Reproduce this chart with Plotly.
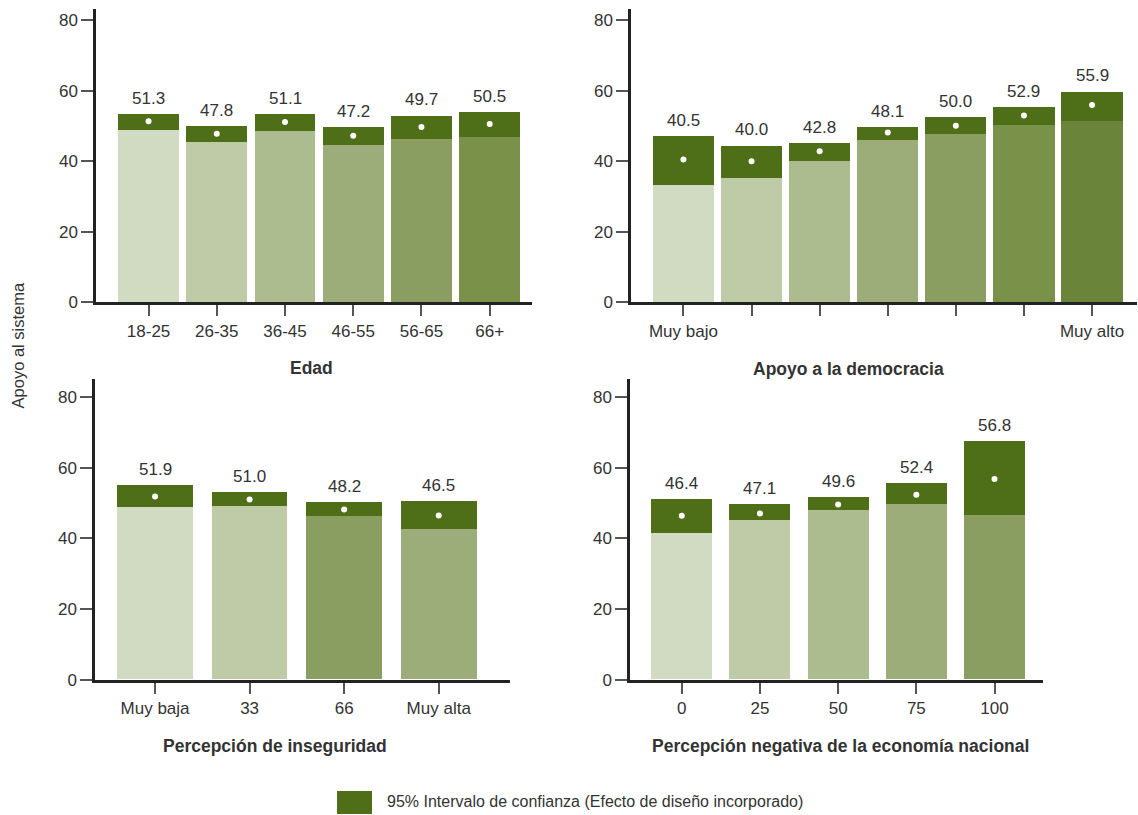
import plotly.graph_objects as go

W, H = 1138, 815      # reference picture size, used for placing things
FIG_H = 826           # page comes out slightly squeezed vertically, so draw a bit taller

# --- data ---
edad_labels = ['18-25', '26-35', '36-45', '46-55', '56-65', '66+']
edad_mean = [51.3, 47.8, 51.1, 47.2, 49.7, 50.5]
edad_low = [48.8, 45.4, 48.5, 44.5, 46.2, 46.8]
edad_high = [53.3, 49.9, 53.3, 49.6, 52.8, 53.9]

demo_labels = ['Muy bajo', '', '', '', '', '', 'Muy alto']
demo_mean = [40.5, 40.0, 42.8, 48.1, 50.0, 52.9, 55.9]
demo_low = [33.2, 35.2, 40.0, 46.0, 47.7, 50.2, 51.3]
demo_high = [47.1, 44.3, 45.1, 49.6, 52.5, 55.3, 59.6]

inseg_labels = ['Muy baja', '33', '66', 'Muy alta']
inseg_mean = [51.9, 51.0, 48.2, 46.5]
inseg_low = [48.9, 49.2, 46.3, 42.6]
inseg_high = [55.1, 53.1, 50.3, 50.6]

econ_labels = ['0', '25', '50', '75', '100']
econ_mean = [46.4, 47.1, 49.6, 52.4, 56.8]
econ_low = [41.4, 45.1, 47.9, 49.6, 46.5]
econ_high = [51.1, 49.6, 51.6, 55.6, 67.5]

y_ticks = [0, 20, 40, 60, 80]

# --- style ---
FONT = 'Liberation Sans, Arial, sans-serif'
TXT = '#333333'
CI_COLOR = '#4e6e18'
greens = ['#d1dbc2', '#bfcaa7', '#acbc8e', '#9cad79', '#8a9e61', '#7a914a', '#6a843a']

panels = [
    dict(labels=edad_labels, mean=edad_mean, low=edad_low, high=edad_high,
         colors=greens[:6], title='Edad', width=0.89,
         xpx=(96, 532), ypx=(302, 9), xr=(-0.77, 5.62), yr=(0, 83.1),
         title_pos=(311, 368)),
    dict(labels=demo_labels, mean=demo_mean, low=demo_low, high=demo_high,
         colors=greens[:7], title='Apoyo a la democracia', width=0.9,
         xpx=(631, 1137), ypx=(302, 9), xr=(-0.77, 6.66), yr=(0, 83.1),
         title_pos=(848, 369)),
    dict(labels=inseg_labels, mean=inseg_mean, low=inseg_low, high=inseg_high,
         colors=[greens[0], greens[1], greens[4], greens[3]],
         title='Percepción de inseguridad', width=0.8,
         xpx=(95, 510), ypx=(679, 379), xr=(-0.635, 3.754), yr=(0, 85.0),
         title_pos=(275, 745)),
    dict(labels=econ_labels, mean=econ_mean, low=econ_low, high=econ_high,
         colors=greens[:5], title='Percepción negativa de la economía nacional', width=0.78,
         xpx=(630, 1043), ypx=(679, 379), xr=(-0.662, 4.62), yr=(0, 85.0),
         title_pos=(840, 745)),
]

fig = go.Figure()
annotations = []

for i, p in enumerate(panels):
    n = i + 1
    xa = 'x' if n == 1 else f'x{n}'
    ya = 'y' if n == 1 else f'y{n}'
    pos = list(range(len(p['labels'])))
    ci = [h - l for h, l in zip(p['high'], p['low'])]

    fig.add_trace(go.Bar(x=pos, y=p['low'], marker_color=p['colors'], marker_line_width=0,
                         width=p['width'], xaxis=xa, yaxis=ya, showlegend=False,
                         hoverinfo='skip'))
    fig.add_trace(go.Bar(x=pos, y=ci, base=p['low'], marker_color=CI_COLOR, marker_line_width=0,
                         width=p['width'], xaxis=xa, yaxis=ya, showlegend=False,
                         name='95% Intervalo de confianza'))
    fig.add_trace(go.Scatter(x=pos, y=p['mean'], mode='markers',
                             marker=dict(color='white', size=6), xaxis=xa, yaxis=ya,
                             showlegend=False))

    for x, m, h in zip(pos, p['mean'], p['high']):
        annotations.append(dict(x=x, y=h, xref=xa, yref=ya, text=f'{m:.1f}', showarrow=False,
                                yanchor='middle', yshift=16,
                                font=dict(size=17, color=TXT, family=FONT)))

    tx, ty = p['title_pos']
    annotations.append(dict(x=tx / W, y=1 - ty / H, xref='paper', yref='paper',
                            text=f"<b>{p['title']}</b>", showarrow=False,
                            xanchor='center', yanchor='middle',
                            font=dict(size=17.5, color=TXT, family=FONT)))

    axis_common = dict(showline=True, linecolor='#222222', linewidth=2.5, showgrid=False,
                       zeroline=False, ticks='outside', tickcolor='#555555', tickwidth=1.5,
                       tickfont=dict(size=17, color=TXT, family=FONT))
    fig.update_layout({
        ('xaxis' if n == 1 else f'xaxis{n}'): dict(
            axis_common, domain=[p['xpx'][0] / W, p['xpx'][1] / W], range=list(p['xr']),
            tickvals=pos, ticktext=p['labels'], ticklen=11, anchor=ya),
        ('yaxis' if n == 1 else f'yaxis{n}'): dict(
            axis_common, domain=[1 - p['ypx'][0] / H, 1 - p['ypx'][1] / H], range=list(p['yr']),
            tickvals=y_ticks, ticklen=12, anchor=xa),
    })

# shared y title
annotations.append(dict(x=18 / W, y=1 - 345 / H, xref='paper', yref='paper',
                        text='Apoyo al sistema', textangle=-90, showarrow=False,
                        xanchor='center', yanchor='middle',
                        font=dict(size=16.5, color=TXT, family=FONT)))

# legend (drawn by hand to get the wide swatch)
annotations.append(dict(x=385 / W, y=1 - 801 / H, xref='paper', yref='paper',
                        text='95% Intervalo de confianza (Efecto de diseño incorporado)',
                        showarrow=False, xanchor='left', yanchor='middle',
                        font=dict(size=16, color=TXT, family=FONT)))

fig.update_layout(
    width=W, height=FIG_H,
    margin=dict(l=0, r=0, t=0, b=0),
    paper_bgcolor='white', plot_bgcolor='white',
    barmode='overlay', bargap=0,
    showlegend=False,
    annotations=annotations,
    shapes=[dict(type='rect', xref='paper', yref='paper',
                 x0=337 / W, x1=372 / W, y0=1 - 813 / H, y1=1 - 790 / H,
                 fillcolor=CI_COLOR, line_width=0)],
)

# drop the page's default body margin so the figure sits at the window corner
fig.write_html('out.html', config={'displayModeBar': False},
               post_script="document.body.style.margin='0';document.body.style.overflow='hidden';")
